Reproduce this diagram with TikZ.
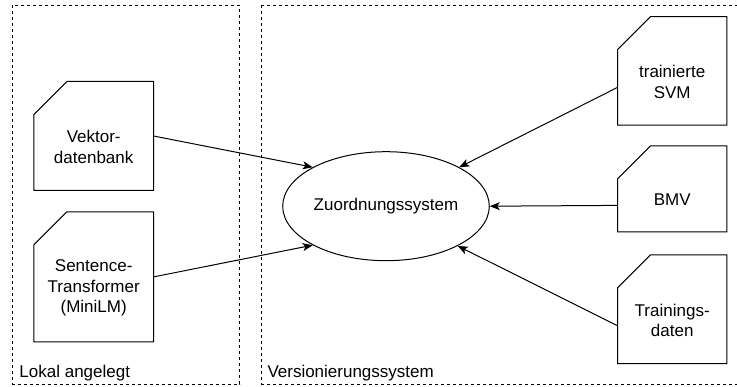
\documentclass[tikz,border=0pt]{standalone}
\usepackage{fontspec}
\setmainfont{Liberation Sans}
\usetikzlibrary{arrows.meta,shapes.geometric}
\begin{document}
\begin{tikzpicture}[x=1pt,y=-1pt,
  font=\fontsize{17}{20.4}\selectfont,
  areabox/.style={draw, line width=0.9pt, dash pattern=on 3pt off 3pt},
  cardnode/.style 2 args={rectangle, inner sep=0pt, minimum width=#1, minimum height=#2},
  cardline/.style={draw, line width=1pt, line join=miter},
  cardtext/.style={align=center, yshift=-11pt, inner sep=0pt},
  arr/.style={line width=1pt, -{Stealth[length=10pt, width=8pt, inset=2.5pt]}},
  lbl/.style={anchor=west, inner sep=0pt}
]
\useasboundingbox (0,0) rectangle (737,387);
\clip (0,0) rectangle (737,387);

% area boxes
\draw[areabox] (12,5.5) rectangle (239.5,384);
\draw[areabox] (261,5.5) rectangle (760,384);
\node[lbl] (lokal) at (19.3,373.3) {Lokal angelegt};
\node[lbl] (vers) at (267.3,372.8) {Versionierungssystem};

% cards
\node[cardnode={119.3pt}{108.6pt}, label={[cardtext]center:Vektor-\\datenbank}] (vdb) at (93.7,136) {};
\node[cardnode={119.3pt}{129.7pt}, label={[cardtext]center:Sentence-\\Transformer\\(MiniLM)}] (st) at (93.7,276.9) {};
\node[cardnode={109pt}{108.3pt}, label={[cardtext]center:trainierte\\SVM}] (svm) at (672.2,70.9) {};
\node[cardnode={109pt}{85.7pt}, label={[cardtext]center:BMV}] (bmv) at (672.2,188.9) {};
\node[cardnode={109pt}{108.3pt}, label={[cardtext]center:Trainings-\\daten}] (td) at (672.2,309.2) {};

\foreach \n in {vdb,st,svm,bmv,td}{
  \draw[cardline] (\n.south west) -- (\n.south east) -- (\n.north east)
    -- ([xshift=33pt]\n.north west) -- ([yshift=-33pt]\n.north west) -- cycle;
}

% central ellipse
\node[ellipse, draw, line width=1pt, minimum width=206.6pt, minimum height=109pt, inner sep=0pt] (zs) at (386,206.2) {Zuordnungssystem};

% connectors
\draw[arr] (vdb.east) -- (zs.152.7);
\draw[arr] (st.east) -- (zs.208.5);
\draw[arr] ([yshift=-16.5pt]svm.west) -- (zs.28.4);
\draw[arr] ([yshift=-16.5pt]bmv.west) -- (zs.east);
\draw[arr] ([yshift=-16.5pt]td.west) -- (zs.331.5);
\end{tikzpicture}
\end{document}
